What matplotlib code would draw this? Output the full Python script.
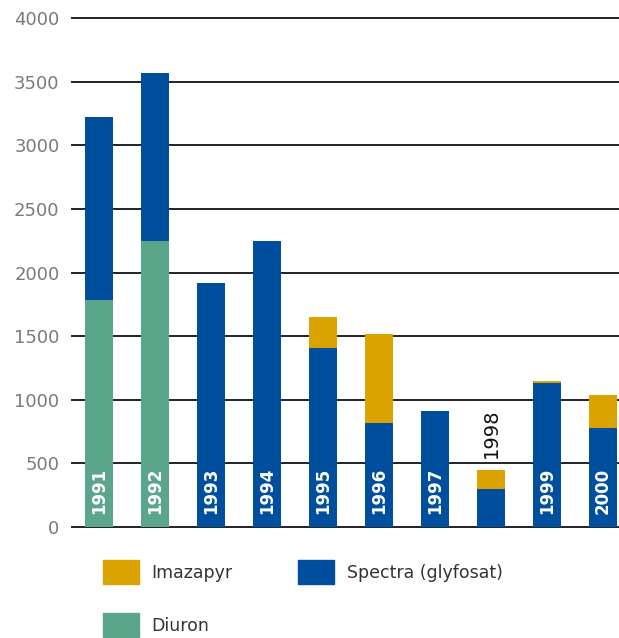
import matplotlib.pyplot as plt
import numpy as np
from matplotlib.patches import Patch

# Herbicide use per year, stacked by product
years = ['1991', '1992', '1993', '1994', '1995', '1996', '1997', '1998', '1999', '2000']
diuron = [1780, 2250, 0, 0, 0, 0, 0, 0, 0, 0]
spectra = [1440, 1320, 1920, 2250, 1410, 820, 910, 300, 1130, 780]
imazapyr = [0, 0, 0, 0, 240, 700, 0, 150, 20, 260]

yticks = [0, 500, 1000, 1500, 2000, 2500, 3000, 3500, 4000]

c_imaz = '#DBA300'
c_spectra = '#004E9E'
c_diuron = '#5BA68A'

fig = plt.figure(figsize=(6.19, 6.38), dpi=100)
ax = fig.add_axes([72 / 619, 1 - 527 / 638, 1 - 72 / 619, (527 - 18) / 638])

x = np.arange(len(years))
w = 0.5
diuron = np.array(diuron)
spectra = np.array(spectra)
imazapyr = np.array(imazapyr)

ax.bar(x, diuron, w, color=c_diuron, zorder=3)
ax.bar(x, spectra, w, bottom=diuron, color=c_spectra, zorder=3)
ax.bar(x, imazapyr, w, bottom=diuron + spectra, color=c_imaz, zorder=3)

totals = diuron + spectra + imazapyr
for xi, yr, tot in zip(x, years, totals):
    if tot < 700:
        # short bar: label goes above
        ax.text(xi, tot + 90, yr, rotation=90, ha='center', va='bottom',
                fontsize=14, color='#111111', zorder=4)
    else:
        ax.text(xi, 105, yr, rotation=90, ha='center', va='bottom',
                fontsize=12, color='white', fontweight='bold', zorder=4)

ax.set_xlim(-0.482, 9.286)
ax.set_ylim(0, 4000)
ax.set_yticks(yticks)
ax.set_xticks([])
ax.yaxis.grid(True, color='#222222', linewidth=1.4, zorder=1)
for gl in ax.get_ygridlines():
    gl.set_clip_on(False)
ax.tick_params(axis='y', length=0, pad=9, labelsize=13, labelcolor='#7a7a7a')
for s in ax.spines.values():
    s.set_visible(False)

handles = [Patch(color=c_imaz, label='Imazapyr'),
           Patch(color=c_diuron, label='Diuron'),
           Patch(color=c_spectra, label='Spectra (glyfosat)')]
fig.legend(handles=handles, ncol=2, loc='upper left',
           bbox_to_anchor=(87 / 619, 1 - 544 / 638), frameon=False,
           fontsize=12.5, handlelength=2.07, handleheight=1.8,
           handletextpad=0.75, columnspacing=3.74, labelspacing=1.65,
           labelcolor='#333333')

fig.savefig('out.png', dpi=100)
